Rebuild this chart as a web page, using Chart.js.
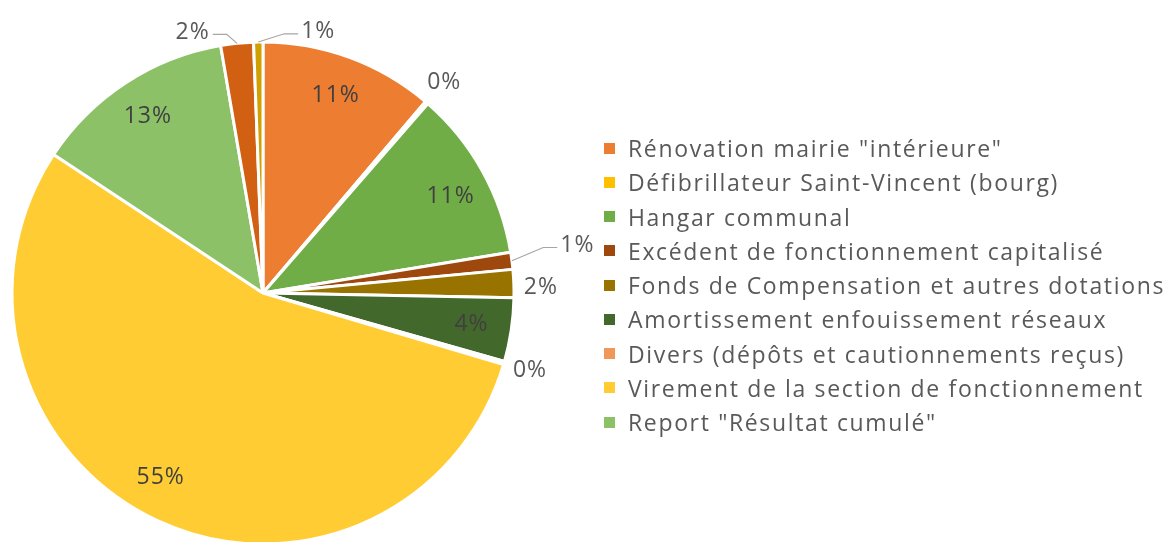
<!DOCTYPE html>
<html>
<head>
<meta charset="utf-8">
<script src="https://cdn.jsdelivr.net/npm/chart.js@4/dist/chart.umd.min.js"></script>
<style>
  html, body { margin: 0; padding: 0; background: #fff; overflow: hidden; }
  #wrap { position: relative; width: 1170px; height: 542px; overflow: hidden; }
  #chart { position: absolute; left: 0; top: 0; }
  #legend { position: absolute; left: 604px; top: 131px; font-family: "Open Sans", Lato, sans-serif; font-size: 23px; letter-spacing: 1.65px; color: #595959; }
  .item { height: 34.25px; display: flex; align-items: center; white-space: nowrap; }
  .sw { width: 11px; height: 11px; margin-right: 13px; flex: none; }
</style>
</head>
<body>
<div id="wrap">
  <canvas id="chart" width="1170" height="570"></canvas>
  <div id="legend"></div>
</div>
<script>
// Budget lines (the last two slices have no legend entry in the source)
const categories = [
  'Rénovation mairie "intérieure"',
  'Défibrillateur Saint-Vincent (bourg)',
  'Hangar communal',
  'Excédent de fonctionnement capitalisé',
  'Fonds de Compensation et autres dotations',
  'Amortissement enfouissement réseaux',
  'Divers (dépôts et cautionnements reçus)',
  'Virement de la section de fonctionnement',
  'Report "Résultat cumulé"',
  '',
  ''
];
const values = [11.2, 0.2, 11.0, 1.1, 1.8, 4.1, 0.2, 54.7, 13.0, 2.1, 0.6];
const colors = ['#ED7D31', '#FFC000', '#70AD47', '#9E480E', '#997300', '#43682B',
                '#F1975A', '#FFCD33', '#8CC168', '#D26012', '#D1A000'];

// where each percentage label goes: inside / outside [angle nudge deg],
// or outside with a leader line [angle nudge deg, distance]
const labelPlace = [
  ['in', 0], ['out', 0], ['in', 2], ['lead', -1.7, 50], ['out', 1], ['in', 0],
  ['out', 0], ['in', 4], ['in', 0], ['lead', -5.6, 15], ['lead', 9.4, 13]
];

const pctLabels = {
  id: 'pctLabels',
  afterDatasetsDraw(chart) {
    const ctx = chart.ctx;
    const meta = chart.getDatasetMeta(0);
    const total = values.reduce((a, b) => a + b, 0);
    ctx.save();
    ctx.font = '23px "Open Sans", Lato, sans-serif';
    ctx.letterSpacing = '1px';
    ctx.textBaseline = 'middle';
    meta.data.forEach((arc, i) => {
      const { x, y, startAngle, endAngle, outerRadius } =
        arc.getProps(['x', 'y', 'startAngle', 'endAngle', 'outerRadius'], true);
      const mid = (startAngle + endAngle) / 2;
      const txt = Math.round(values[i] / total * 100) + '%';
      const place = labelPlace[i];
      const a = mid + place[1] * Math.PI / 180;
      if (place[0] === 'in') {
        const r = outerRadius * 0.84;
        ctx.fillStyle = '#404040';
        ctx.textAlign = 'center';
        ctx.fillText(txt, x + r * Math.cos(a), y + r * Math.sin(a));
      } else if (place[0] === 'out') {
        const r = outerRadius + 27;
        ctx.fillStyle = '#595959';
        ctx.textAlign = 'center';
        ctx.fillText(txt, x + r * Math.cos(a), y + r * Math.sin(a));
      } else {
        const r = outerRadius + place[2];
        const px = x + r * Math.cos(a);
        const py = y + r * Math.sin(a);
        const right = px > x;
        const ex = x + outerRadius * Math.cos(mid);
        const ey = y + outerRadius * Math.sin(mid);
        const hx = right ? px - 3 : px + 3;
        const bx = right ? hx - 14 : hx + 14;
        ctx.strokeStyle = '#A6A6A6';
        ctx.lineWidth = 1.2;
        ctx.beginPath();
        ctx.moveTo(ex, ey);
        ctx.lineTo(bx, py + 2);
        ctx.lineTo(hx, py + 2);
        ctx.stroke();
        ctx.fillStyle = '#595959';
        ctx.textAlign = right ? 'left' : 'right';
        ctx.fillText(txt, px, py);
      }
    });
    ctx.restore();
  }
};

new Chart(document.getElementById('chart'), {
  type: 'pie',
  data: {
    labels: categories,
    datasets: [{
      data: values,
      backgroundColor: colors,
      borderColor: '#ffffff',
      borderWidth: 3
    }]
  },
  options: {
    responsive: false,
    animation: false,
    radius: 251,
    layout: { padding: { left: 12, right: 656, top: 42, bottom: 26 } },
    plugins: {
      legend: { display: false },
      tooltip: { enabled: false }
    }
  },
  plugins: [pctLabels]
});

// legend, only the named lines
const legend = document.getElementById('legend');
categories.forEach((name, i) => {
  if (!name) return;
  const row = document.createElement('div');
  row.className = 'item';
  row.innerHTML = `<span class="sw" style="background:${colors[i]}"></span><span>${name.replace(/"/g, '&quot;')}</span>`;
  legend.appendChild(row);
});
</script>
</body>
</html>
